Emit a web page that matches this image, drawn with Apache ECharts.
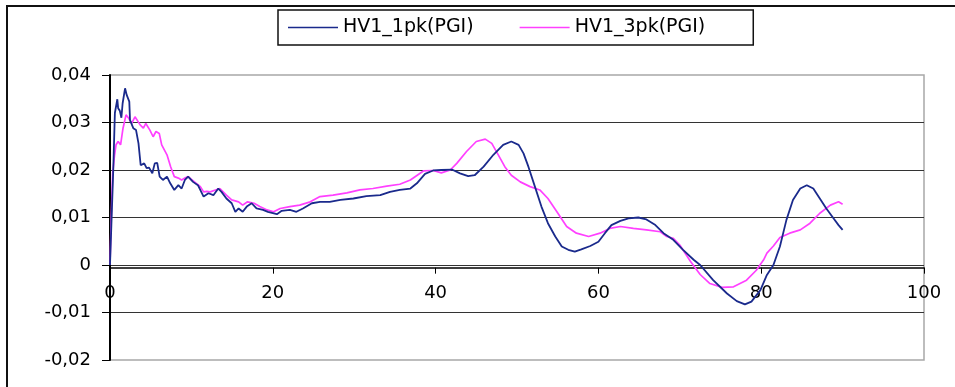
<!DOCTYPE html>
<html>
<head>
<meta charset="utf-8">
<script src="https://cdn.jsdelivr.net/npm/echarts@6/dist/echarts.min.js"></script>
<style>
html,body{margin:0;padding:0;background:#fff;}
#chart{width:955px;height:387px;}
</style>
</head>
<body>
<div id="chart"></div>
<script>
var seriesNames = ['HV1_1pk(PGI)', 'HV1_3pk(PGI)'];
var xTickLabels = ['0', '20', '40', '60', '80', '100'];
var yTickLabels = ['-0,02', '-0,01', '0', '0,01', '0,02', '0,03', '0,04'];

var blueX = [0,0.2,0.4,0.6,0.9,1.0,1.2,1.4,1.55,1.85,2.05,2.37,2.46,2.86,3.2,3.5,3.77,4.2,4.5,4.8,5.2,5.5,5.8,6.1,6.5,7.0,7.4,7.9,8.4,8.8,9.2,9.6,10.2,10.8,11.5,12.1,12.7,13.3,13.7,14.3,14.95,15.4,15.8,16.3,16.8,17.4,18.0,18.8,19.4,20.5,21.1,22.1,22.9,23.7,24.8,25.8,27.0,28.3,29.9,31.5,33.2,34.4,35.6,36.9,37.7,38.7,39.7,40.7,42.0,43.0,44.0,44.8,45.9,47.1,48.3,49.3,50.2,50.8,51.4,52.2,53.0,53.8,54.7,55.5,56.3,57.1,57.9,59.0,60.0,60.8,61.6,62.7,63.7,64.9,65.9,67.0,68.0,69.2,70.4,71.7,72.5,74.1,75.8,77.0,78.0,78.8,79.9,80.7,81.5,82.3,83.1,83.9,84.8,85.6,86.4,87.2,88.0,88.9,89.5,90.0];
var blueY = [0,0.010,0.020,0.032,0.0349,0.033,0.0325,0.031,0.034,0.0372,0.0358,0.0344,0.0305,0.0288,0.0284,0.0256,0.021,0.0214,0.0204,0.0205,0.0193,0.0214,0.0215,0.0186,0.0179,0.0186,0.0172,0.0158,0.0168,0.0161,0.0179,0.0186,0.0175,0.0168,0.0144,0.0151,0.0147,0.0161,0.0154,0.014,0.013,0.0112,0.0119,0.0112,0.0123,0.013,0.0119,0.0116,0.0112,0.0107,0.0114,0.0116,0.0112,0.0119,0.013,0.0133,0.0133,0.0137,0.014,0.0145,0.0147,0.0154,0.0158,0.0161,0.0172,0.0192,0.0199,0.02,0.0201,0.0193,0.0187,0.0189,0.0207,0.0232,0.0253,0.026,0.0253,0.0235,0.0207,0.0165,0.0123,0.0088,0.006,0.0039,0.0032,0.0028,0.0033,0.004,0.0049,0.0067,0.0084,0.0093,0.0098,0.01,0.0096,0.0084,0.0067,0.0053,0.0032,0.0011,0,-0.0032,-0.006,-0.0076,-0.0083,-0.0077,-0.0053,-0.0021,0,0.0039,0.0095,0.0137,0.0161,0.0168,0.0161,0.014,0.0119,0.0098,0.0084,0.0074];

var pinkX = [0,0.15,0.33,0.55,0.74,1.0,1.3,1.6,1.97,2.3,2.66,3.07,3.3,3.7,4.1,4.4,4.9,5.3,5.65,6.05,6.35,7.0,7.45,7.9,8.4,8.8,9.2,9.6,10.0,10.6,11.1,11.5,11.9,12.3,13.5,14.3,14.95,15.8,16.3,16.9,17.7,18.4,19.3,20.1,20.9,22.1,23.3,24.6,25.8,27.4,29.1,30.7,32.3,34.0,35.6,36.9,38.5,39.7,40.7,41.8,42.6,43.8,45.0,46.1,46.9,47.7,48.5,49.3,50.4,51.6,52.8,53.8,54.9,56.1,57.3,58.8,60.2,61.4,62.7,64.3,65.9,67.6,68.4,69.2,70.0,71.3,72.5,73.7,75.2,76.6,78.2,79.4,80.3,80.7,81.5,82.3,83.5,84.8,86.0,87.2,88.5,89.5,90.0];
var pinkY = [0,0.010,0.0193,0.023,0.0253,0.026,0.0253,0.0288,0.0316,0.0309,0.0298,0.0312,0.0316,0.0295,0.0288,0.0298,0.0284,0.027,0.0281,0.0277,0.0253,0.0232,0.0207,0.0186,0.0183,0.0179,0.0183,0.0186,0.018,0.0172,0.0165,0.0154,0.0155,0.0154,0.0161,0.0147,0.0137,0.0133,0.0126,0.0133,0.013,0.0123,0.0116,0.0112,0.0119,0.0123,0.0126,0.0133,0.0144,0.0147,0.0152,0.0158,0.0161,0.0166,0.017,0.0179,0.0198,0.0199,0.0194,0.02,0.0214,0.0239,0.026,0.0265,0.0256,0.0232,0.0207,0.0189,0.0175,0.0165,0.0158,0.014,0.0112,0.0081,0.0067,0.006,0.0067,0.0077,0.0081,0.0077,0.0074,0.007,0.006,0.0056,0.0042,0.0008,-0.002,-0.0039,-0.0047,-0.0046,-0.0032,-0.0011,0.0011,0.0025,0.004,0.0058,0.0067,0.0074,0.0088,0.0109,0.0126,0.0133,0.0128];

function pairs(xs, ys) { return xs.map(function (x, i) { return [x, ys[i]]; }); }

var FONT = '"DejaVu Sans", sans-serif';
var chart = echarts.init(document.getElementById('chart'), null, {renderer: 'canvas'});
chart.setOption({
  backgroundColor: '#fff',
  animation: false,
  graphic: [{
    type: 'rect', silent: true, z: 100,
    shape: {x: 7, y: 6, width: 1000, height: 1000},
    style: {fill: 'none', stroke: '#111', lineWidth: 2}
  }],
  legend: {
    left: 278, top: 10,
    padding: [8, 48, 8, 10],
    icon: 'rect',
    itemWidth: 50, itemHeight: 1.5, itemGap: 46,
    borderColor: '#111', borderWidth: 1.5,
    textStyle: {fontFamily: FONT, fontSize: 19, color: '#000'},
    data: seriesNames
  },
  grid: {left: 110, right: 31, top: 75, bottom: 27, show: true, borderColor: '#a8a8a8', borderWidth: 1.5, containLabel: false},
  xAxis: {
    type: 'value', min: 0, max: 100, interval: 20, position: 'bottom',
    axisLine: {show: true, onZero: false, lineStyle: {color: '#000', width: 1.5}},
    axisTick: {show: true, length: 6, lineStyle: {color: '#000'}},
    axisLabel: {fontFamily: FONT, fontSize: 18, color: '#000', margin: 17,
      formatter: function (v) { return xTickLabels[Math.round(v / 20)]; }},
    splitLine: {show: false}
  },
  yAxis: {
    type: 'value', min: -0.02, max: 0.04, interval: 0.01,
    axisLine: {show: true, onZero: false, lineStyle: {color: '#000', width: 2}},
    axisTick: {show: true, length: 8, lineStyle: {color: '#000'}},
    axisLabel: {fontFamily: FONT, fontSize: 18, color: '#000', margin: 19,
      formatter: function (v) { return yTickLabels[Math.round((v + 0.02) / 0.01)]; }},
    splitLine: {show: true, showMinLine: false, showMaxLine: false, lineStyle: {color: '#333', width: 1.2}}
  },
  series: [
    {name: seriesNames[0], type: 'line', data: pairs(blueX, blueY), showSymbol: false, symbol: 'none',
      lineStyle: {color: '#1a2a8c', width: 1.8}, itemStyle: {color: '#1a2a8c'}, z: 3},
    {name: seriesNames[1], type: 'line', data: pairs(pinkX, pinkY), showSymbol: false, symbol: 'none',
      lineStyle: {color: '#ff40ff', width: 1.7}, itemStyle: {color: '#ff40ff'}, z: 2}
  ]
});
// Place the x axis on y = 0, computed through the library's own y scale.
var yZeroPx = chart.convertToPixel({yAxisIndex: 0}, 0);
var yMinPx = chart.convertToPixel({yAxisIndex: 0}, -0.02);
chart.setOption({xAxis: {offset: yZeroPx - yMinPx}});
</script>
</body>
</html>
